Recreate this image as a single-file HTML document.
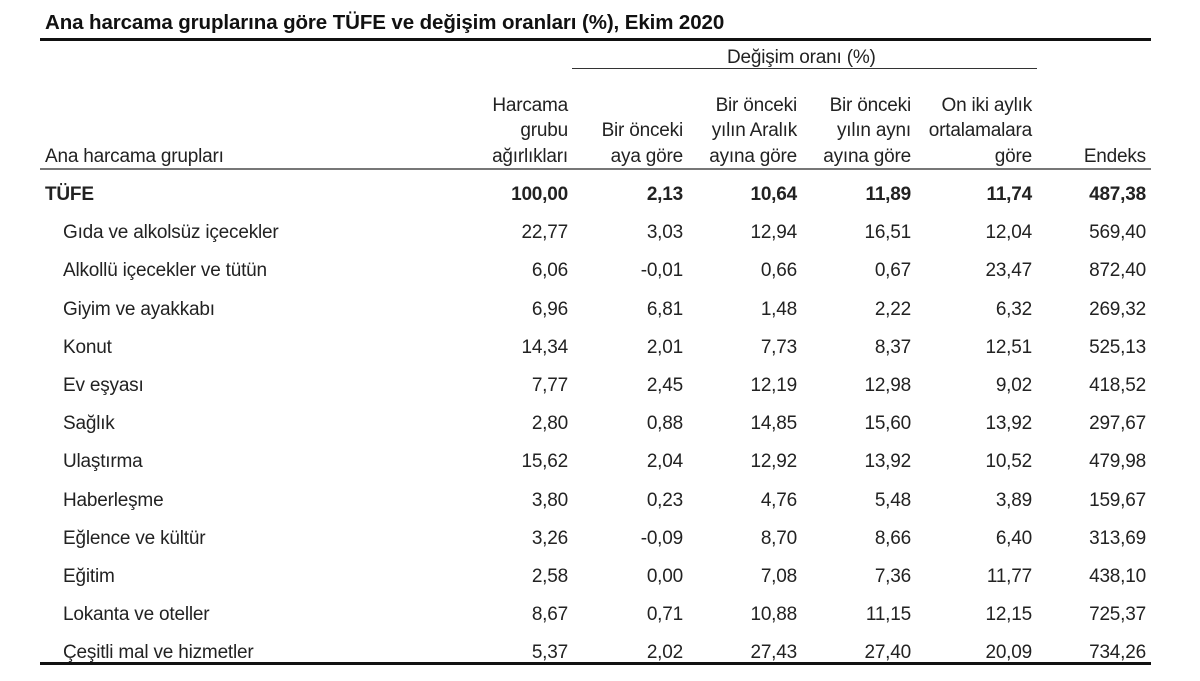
<!DOCTYPE html>
<html><head><meta charset="utf-8"><style>
body{margin:0;width:1200px;height:681px;background:#fff;position:relative;overflow:hidden;font-family:"Liberation Sans",Arial,sans-serif;color:#222;}
.t{position:absolute;white-space:nowrap;font-size:19px;line-height:20px;letter-spacing:-0.2px;}
.r{text-align:right;width:140px;}
.b{font-weight:bold;}
.ln{position:absolute;}
</style></head><body>
<div class="t b" style="left:45px;top:13px;font-size:20.5px;letter-spacing:-0.1px;color:#111;">Ana harcama gruplarına göre TÜFE ve değişim oranları (%), Ekim 2020</div>
<div class="ln" style="left:40px;top:38px;width:1111px;height:3px;background:#111;"></div>
<div class="t" style="left:727px;top:48px;">Değişim oranı (%)</div>
<div class="ln" style="left:572px;top:68px;width:465px;height:1px;background:#333;"></div>
<div class="ln" style="left:40px;top:168px;width:1111px;height:2px;background:#777;"></div>
<div class="ln" style="left:40px;top:662px;width:1111px;height:3px;background:#111;"></div>
<div id="c"></div>
<script>
var R=[568,683,797,911,1032,1146];
var h=[["Harcama","grubu","ağırlıkları"],["","Bir önceki","aya göre"],["Bir önceki","yılın Aralık","ayına göre"],["Bir önceki","yılın aynı","ayına göre"],["On iki aylık","ortalamalara","göre"],["","","Endeks"]];
var s="";
function t(x,y,txt,cls){s+='<div class="t r '+cls+'" style="left:'+(x-140)+'px;top:'+(y-10)+'px">'+txt+'</div>';}
var hy=[106,131,157];
h.forEach(function(c,i){c.forEach(function(v,j){if(v)t(R[i],hy[j],v,"");});});
s+='<div class="t" style="left:45px;top:147px">Ana harcama grupları</div>';
var rows=[["TÜFE","100,00","2,13","10,64","11,89","11,74","487,38"],
["Gıda ve alkolsüz içecekler","22,77","3,03","12,94","16,51","12,04","569,40"],
["Alkollü içecekler ve tütün","6,06","-0,01","0,66","0,67","23,47","872,40"],
["Giyim ve ayakkabı","6,96","6,81","1,48","2,22","6,32","269,32"],
["Konut","14,34","2,01","7,73","8,37","12,51","525,13"],
["Ev eşyası","7,77","2,45","12,19","12,98","9,02","418,52"],
["Sağlık","2,80","0,88","14,85","15,60","13,92","297,67"],
["Ulaştırma","15,62","2,04","12,92","13,92","10,52","479,98"],
["Haberleşme","3,80","0,23","4,76","5,48","3,89","159,67"],
["Eğlence ve kültür","3,26","-0,09","8,70","8,66","6,40","313,69"],
["Eğitim","2,58","0,00","7,08","7,36","11,77","438,10"],
["Lokanta ve oteller","8,67","0,71","10,88","11,15","12,15","725,37"],
["Çeşitli mal ve hizmetler","5,37","2,02","27,43","27,40","20,09","734,26"]];
rows.forEach(function(r,i){var y=195+i*38.2;var cls=i==0?"b":"";
s+='<div class="t '+cls+'" style="left:'+(i==0?45:63)+'px;top:'+(y-10)+'px">'+r[0]+'</div>';
for(var k=1;k<7;k++)t(R[k-1],y,r[k],cls);});
document.getElementById("c").innerHTML=s;
</script>
</body></html>
